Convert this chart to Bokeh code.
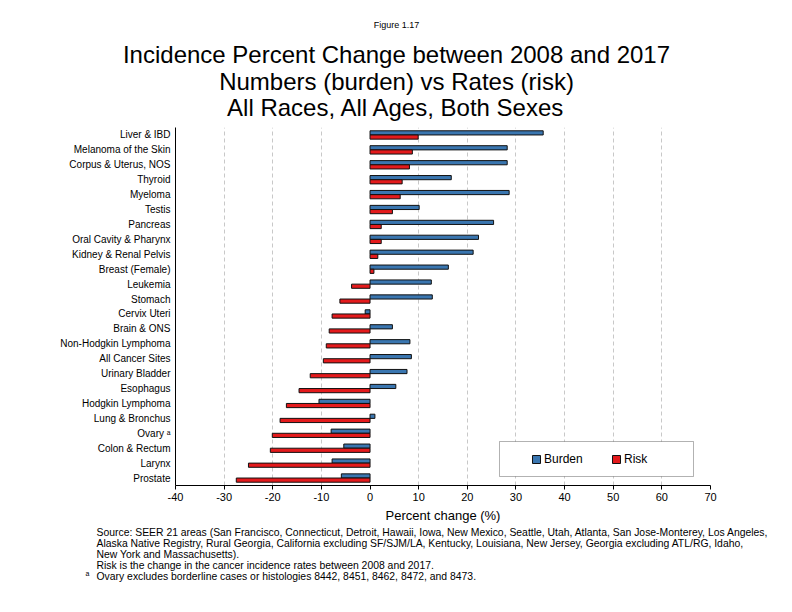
from bokeh.plotting import figure
from bokeh.layouts import column
from bokeh.models import (FactorRange, Range1d, BoxAnnotation, FixedTicker,
                          ColumnDataSource, NumeralTickFormatter)
from bokeh.core.properties import value
from bokeh.transform import dodge
from bokeh.embed import file_html
from bokeh.resources import INLINE

# ---------------- data ----------------
categories = ["Liver & IBD", "Melanoma of the Skin", "Corpus & Uterus, NOS",
              "Thyroid", "Myeloma", "Testis", "Pancreas",
              "Oral Cavity & Pharynx", "Kidney & Renal Pelvis",
              "Breast (Female)", "Leukemia", "Stomach", "Cervix Uteri",
              "Brain & ONS", "Non-Hodgkin Lymphoma", "All Cancer Sites",
              "Urinary Bladder", "Esophagus", "Hodgkin Lymphoma",
              "Lung & Bronchus", "Ovary \u1d43", "Colon & Rectum", "Larynx",
              "Prostate"]
burden = [35.6, 28.2, 28.2, 16.7, 28.6, 10.1, 25.4, 22.3, 21.2, 16.1, 12.6,
          12.8, -1.0, 4.6, 8.2, 8.5, 7.6, 5.3, -10.5, 1.0, -8.0, -5.4, -7.8,
          -5.9]
risk = [9.9, 8.7, 8.1, 6.6, 6.2, 4.6, 2.3, 2.3, 1.6, 0.8, -3.8, -6.2, -7.8,
        -8.4, -9.0, -9.6, -12.3, -14.6, -17.2, -18.5, -20.1, -20.5, -25.0,
        -27.5]
x_ticks = [-40, -30, -20, -10, 0, 10, 20, 30, 40, 50, 60, 70]
grid_ticks = [-30, -20, -10, 10, 20, 30, 40, 50, 60]

figure_label = "Figure 1.17"
title_lines = ["Incidence Percent Change between 2008 and 2017",
               "Numbers (burden) vs Rates (risk)",
               "All Races, All Ages, Both Sexes"]
foot_lines = ["Source: SEER 21 areas (San Francisco, Connecticut, Detroit, Hawaii, Iowa, New Mexico, Seattle, Utah, Atlanta, San Jose-Monterey, Los Angeles,",
              "Alaska Native Registry, Rural Georgia, California excluding SF/SJM/LA, Kentucky, Louisiana, New Jersey, Georgia excluding ATL/RG, Idaho,",
              "New York and Massachusetts).",
              "Risk is the change in the cancer incidence rates between 2008 and 2017.",
              "Ovary excludes borderline cases or histologies 8442, 8451, 8462, 8472, and 8473."]
foot_marker = "a"

BLUE = "#3a76b0"
RED = "#e41a1c"
FONT = "Liberation Sans"
W = 784


def text_panel(height, y0):
    f = figure(width=W, height=height, x_range=Range1d(0, W),
               y_range=Range1d(y0 + height, y0),
               x_axis_type=None, y_axis_type=None,
               output_backend="svg", toolbar_location=None,
               min_border=0, frame_align=False)
    f.outline_line_color = None
    f.background_fill_color = "white"
    f.border_fill_color = "white"
    return f


# ---------------- top: titles ----------------
top = text_panel(127, 0)
top.text(x=[396], y=[24], text=[figure_label], text_font=value(FONT),
         text_font_size="9px", text_align="center", text_baseline="middle",
         text_color="black")
top.text(x=[396, 396, 396], y=[54, 81, 107], text=title_lines,
         text_font=value(FONT), text_font_size="24px", text_align="center",
         text_baseline="middle", text_color="black")

# ---------------- main chart ----------------
src = ColumnDataSource(dict(cat=categories, burden=burden, risk=risk))

p = figure(width=W, height=400, x_range=(-40, 70),
           y_range=FactorRange(factors=categories[::-1]),
           output_backend="svg", toolbar_location=None,
           min_border_left=175, min_border_right=74,
           min_border_top=0, min_border_bottom=42, frame_align=False)
p.outline_line_color = None
p.background_fill_color = "white"
p.border_fill_color = "white"

box = BoxAnnotation(left=324, right=518, bottom=9, top=44,
                    left_units="screen", right_units="screen",
                    bottom_units="screen", top_units="screen",
                    fill_color="white", fill_alpha=1.0,
                    line_color="black", line_width=1)
p.add_layout(box)

p.hbar(y=dodge("cat", 0.14, range=p.y_range), left=0, right="burden",
       height=0.28, fill_color=BLUE, line_color="#111111", line_width=1,
       source=src, legend_label="Burden")
p.hbar(y=dodge("cat", -0.14, range=p.y_range), left=0, right="risk",
       height=0.28, fill_color=RED, line_color="#111111", line_width=1,
       source=src, legend_label="Risk")

p.xaxis.ticker = FixedTicker(ticks=x_ticks)
p.xaxis.formatter = NumeralTickFormatter(format="0")
p.xaxis.axis_label = "Percent change (%)"
p.xaxis.axis_label_text_font = FONT
p.xaxis.axis_label_text_font_style = "normal"
p.xaxis.axis_label_text_font_size = "13px"
p.xaxis.axis_label_text_color = "black"
p.xaxis.axis_label_standoff = 4
p.xaxis.major_label_text_font = FONT
p.xaxis.major_label_text_font_size = "11px"
p.xaxis.major_label_text_color = "black"
p.xaxis.major_tick_out = 4
p.xaxis.major_tick_in = 0
p.xaxis.minor_tick_line_color = None
p.xaxis.major_label_standoff = 3
p.xaxis.axis_line_color = "black"
p.xaxis.major_tick_line_color = "black"

p.yaxis.major_label_text_font = FONT
p.yaxis.major_label_text_font_size = "10px"
p.yaxis.major_label_text_color = "black"
p.yaxis.major_tick_line_color = None
p.yaxis.major_tick_out = 0
p.yaxis.major_tick_in = 0
p.yaxis.major_label_standoff = 5
p.yaxis.axis_line_color = "black"

p.xgrid.ticker = FixedTicker(ticks=grid_ticks)
p.xgrid.grid_line_color = "#c8c8c8"
p.xgrid.grid_line_dash = "4 3"
p.ygrid.grid_line_color = None

lg = p.legend[0]
lg.orientation = "horizontal"
lg.location = (356, 19)
lg.padding = 0
lg.margin = 0
lg.spacing = 27
lg.label_width = 40
lg.glyph_width = 10
lg.glyph_height = 10
lg.label_standoff = 3
lg.label_text_font = FONT
lg.label_text_font_size = "12px"
lg.label_text_color = "black"
lg.border_line_color = None
lg.background_fill_alpha = 0

# ---------------- bottom: footnotes ----------------
bot = text_panel(77, 527)
bot.text(x=[96] * len(foot_lines), y=[532, 543, 554, 565, 576],
         text=foot_lines, text_font=value(FONT), text_font_size="10.4px",
         text_align="left", text_baseline="middle", text_color="black")
bot.text(x=[85], y=[573], text=[foot_marker], text_font=value(FONT),
         text_font_size="7px", text_align="left", text_baseline="middle",
         text_color="black")

layout = column(top, p, bot, spacing=0)
open("out.html", "w").write(file_html(layout, INLINE))
